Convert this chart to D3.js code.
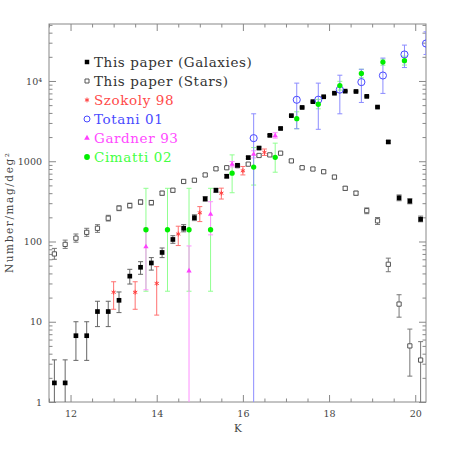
<!DOCTYPE html>
<html>
<head>
<meta charset="utf-8">
<script src="https://cdn.jsdelivr.net/npm/d3@7"></script>
<style>
  body { margin: 0; background: #fff; }
  #chart { width: 450px; height: 450px; }
  text { font-family: "DejaVu Serif", serif; }
</style>
</head>
<body>
<div id="chart"></div>
<script>
// magnitude bins (this paper)
var binK = [11.625, 11.875, 12.125, 12.375, 12.625, 12.875, 13.125, 13.375, 13.625, 13.875,
            14.125, 14.375, 14.625, 14.875, 15.125, 15.375, 15.625, 15.875, 16.125, 16.375,
            16.625, 16.875, 17.125, 17.375, 17.625, 17.875, 18.125, 18.375, 18.625, 18.875,
            19.125, 19.375, 19.625, 19.875, 20.125];

// This paper (Galaxies)
var galN  = [1.73, 1.73, 6.7, 6.7, 13.4, 13.4, 18.5, 37, 47.7, 54,
             73, 106, 146, 198, 340, 435, 650, 890, 1110, 1460,
             2100, 2560, 3700, 4680, 5530, 6360, 7040, 7470, 7400, 6430,
             4730, 1740, 350, 318, 189];
var galLo = [0, 0, 3.3, 3.3, 8.7, 8.7, 13, 29.5, 39, 44,
             63, 95, 132, 182, 318, 410, 620, 855, 1070, 1415,
             2050, 2500, 3630, 4600, 5440, 6260, 6930, 7360, 7290, 6330,
             4630, 1680, 322, 295, 176];
var galHi = [3.35, 3.35, 10, 10, 18, 18, 23.5, 45, 56, 63,
             83, 118, 162, 215, 362, 460, 680, 925, 1150, 1505,
             2150, 2620, 3770, 4760, 5620, 6460, 7150, 7580, 7510, 6530,
             4830, 1800, 380, 342, 207];

// This paper (Stars)
var starN  = [70, 92, 110, 130, 146, 195, 260, 280, 310, 305,
              400, 435, 560, 580, 675, 805, 830, 880, 920, 1180,
              1200, 1260, 1010, 830, 800, 740, 635, 460, 400, 242,
              181, 52, 16.6, 5.0, 3.33];
var starLo = [60, 82, 98, 116, 130, 180, 242, 262, 290, 285,
              378, 413, 535, 555, 648, 775, 800, 850, 890, 1140,
              1160, 1220, 975, 800, 770, 710, 605, 435, 378, 222,
              163, 42, 11.4, 2.1, 0];
var starHi = [82, 104, 124, 146, 162, 212, 278, 300, 330, 325,
              422, 458, 585, 605, 702, 835, 860, 910, 950, 1220,
              1240, 1300, 1045, 860, 830, 770, 665, 485, 422, 262,
              199, 62, 21.7, 8.1, 5.65];

// Szokoly 98
var szoK  = [13.0, 13.5, 14.0, 14.5, 15.0, 15.5, 16.0, 16.5];
var szoN  = [23.3, 23.3, 30, 124, 228, 400, 760, 1290];
var szoLo = [14.3, 14.3, 12.1, 89, 177, 338, 675, 1180];
var szoHi = [31.5, 31.5, 48.6, 155, 272, 462, 860, 1420];

// Totani 01
var totK  = [16.25, 17.25, 17.75, 18.25, 18.75, 19.25, 19.75, 20.25];
var totN  = [1940, 5830, 5850, 7800, 9680, 11700, 21400, 29300];
var totLo = [0, 2540, 2500, 3900, 5400, 7000, 14700, 21400];
var totHi = [3900, 9400, 9400, 11800, 14000, 19300, 28000, 41000];

// Gardner 93
var garK  = [13.75, 14.75, 15.25, 15.75, 16.25, 16.75];
var garN  = [86, 43, 218, 917, 1220, 2080];
var garLo = [25, 0, 121, 850, 1100, 1940];
var garHi = [147, 88, 313, 990, 1350, 2270];

// Cimatti 02
var cimK  = [13.75, 14.25, 14.75, 15.25, 15.75, 16.25, 16.75, 17.25, 17.75, 18.25, 18.75, 19.25, 19.75];
var cimN  = [140, 140, 140, 140, 710, 845, 1120, 3390, 5130, 8770, 12400, 17200, 17900];
var cimLo = [24, 24, 24, 24, 405, 505, 730, 2540, 4500, 7700, 11000, 15700, 15800];
var cimHi = [460, 460, 460, 460, 1200, 1480, 1680, 4130, 5890, 9900, 14000, 18700, 20400];

var legendLabels = ["This paper (Galaxies)", "This paper (Stars)", "Szokoly 98", "Totani 01", "Gardner 93", "Cimatti 02"];

var xMajor = [12, 14, 16, 18, 20];
var yMajor = [1, 10, 100, 1000, 10000];
var yLabels = ["1", "10", "100", "1000", "10\u2074"];

var chartDiv = document.getElementById("chart");
var width = 450, height = 450;

var svg = d3.select(chartDiv).append("svg")
    .attr("width", width)
    .attr("height", height);

// plot box (note: "top" is taken by window.top)
var pLeft = 49, pRight = 426, pTop = 24, pBottom = 402;

var x = d3.scaleLinear().domain([11.5, 20.25]).range([pLeft, pRight]);
var y = d3.scaleLog().domain([1, Math.pow(10, 4.71)]).range([pBottom, pTop]);

var axisColor = "#888";

// minor tick positions
var xMinor = [];
for (var k = 11.5; k <= 20.25; k += 0.5) { if (xMajor.indexOf(k) < 0) xMinor.push(k); }
var yMinor = [];
yMajor.forEach(function(d) {
    for (var m = 2; m <= 9; m++) { if (d * m <= y.domain()[1]) yMinor.push(d * m); }
});

function styleAxis(g) {
    g.select(".domain").remove();
    g.selectAll("line").attr("stroke", axisColor);
    g.selectAll("text").attr("fill", "#444").style("font-size", "9.5px").style("font-family", "DejaVu Serif");
}

// bottom + top x axes
svg.append("g").attr("transform", "translate(0," + pBottom + ")")
    .call(d3.axisBottom(x).tickValues(xMajor).tickSizeInner(-7).tickSizeOuter(0).tickPadding(8).tickFormat(d3.format("d")))
    .call(styleAxis);
svg.append("g").attr("transform", "translate(0," + pBottom + ")")
    .call(d3.axisBottom(x).tickValues(xMinor).tickSizeInner(-3.5).tickSizeOuter(0).tickFormat(""))
    .call(styleAxis);
svg.append("g").attr("transform", "translate(0," + pTop + ")")
    .call(d3.axisTop(x).tickValues(xMajor).tickSizeInner(-7).tickSizeOuter(0).tickFormat(""))
    .call(styleAxis);
svg.append("g").attr("transform", "translate(0," + pTop + ")")
    .call(d3.axisTop(x).tickValues(xMinor).tickSizeInner(-3.5).tickSizeOuter(0).tickFormat(""))
    .call(styleAxis);

// left + right y axes
svg.append("g").attr("transform", "translate(" + pLeft + ",0)")
    .call(d3.axisLeft(y).tickValues(yMajor).tickSizeInner(-7).tickSizeOuter(0).tickPadding(7)
        .tickFormat(function(d, i) { return yLabels[i]; }))
    .call(styleAxis);
svg.append("g").attr("transform", "translate(" + pLeft + ",0)")
    .call(d3.axisLeft(y).tickValues(yMinor).tickSizeInner(-3.5).tickSizeOuter(0).tickFormat(""))
    .call(styleAxis);
svg.append("g").attr("transform", "translate(" + pRight + ",0)")
    .call(d3.axisRight(y).tickValues(yMajor).tickSizeInner(-7).tickSizeOuter(0).tickFormat(""))
    .call(styleAxis);
svg.append("g").attr("transform", "translate(" + pRight + ",0)")
    .call(d3.axisRight(y).tickValues(yMinor).tickSizeInner(-3.5).tickSizeOuter(0).tickFormat(""))
    .call(styleAxis);

// frame
svg.append("rect")
    .attr("x", pLeft).attr("y", pTop)
    .attr("width", pRight - pLeft).attr("height", pBottom - pTop)
    .attr("fill", "none").attr("stroke", axisColor).attr("stroke-width", 1);

// axis titles
svg.append("text")
    .attr("x", x(16) - 5).attr("y", 432)
    .attr("text-anchor", "middle")
    .attr("fill", "#444").style("font-size", "10.5px")
    .text("K");

svg.append("text")
    .attr("transform", "translate(13," + ((pTop + pBottom) / 2) + ") rotate(-90)")
    .attr("text-anchor", "middle")
    .attr("fill", "#444").style("font-size", "10.5px")
    .attr("textLength", 120).attr("lengthAdjust", "spacing")
    .text("Number/mag/deg\u00b2");

// plot area clip
svg.append("clipPath").attr("id", "clip")
    .append("rect").attr("x", pLeft).attr("y", pTop).attr("width", pRight - pLeft).attr("height", pBottom - pTop);

var plot = svg.append("g").attr("clip-path", "url(#clip)");

function yClamp(v) { return v <= 0 ? pBottom + 5 : y(v); }

function drawErrors(ks, lo, hi, color) {
    var g = plot.append("g").attr("stroke", color).attr("stroke-width", 1).attr("fill", "none");
    ks.forEach(function(k, i) {
        var cx = x(k);
        g.append("line").attr("x1", cx).attr("x2", cx).attr("y1", yClamp(lo[i])).attr("y2", y(hi[i]));
        g.append("line").attr("x1", cx - 2.5).attr("x2", cx + 2.5).attr("y1", y(hi[i])).attr("y2", y(hi[i]));
        if (lo[i] > 0) g.append("line").attr("x1", cx - 2.5).attr("x2", cx + 2.5).attr("y1", y(lo[i])).attr("y2", y(lo[i]));
    });
}

function drawMarks(ks, ns, shape, size, fill, stroke) {
    plot.append("g").selectAll("path")
        .data(ks)
        .enter().append("path")
        .attr("transform", function(d, i) { return "translate(" + x(d) + "," + y(ns[i]) + ")"; })
        .attr("d", d3.symbol().type(shape).size(size))
        .attr("fill", fill)
        .attr("stroke", stroke)
        .attr("stroke-width", 1);
}

var red = "#ff4040", blue = "#4848ff", magenta = "#ff40ff", green = "#00ee00";

// error bars
drawErrors(binK, starLo, starHi, "#777");
drawErrors(binK, galLo, galHi, "#666");
drawErrors(cimK, cimLo, cimHi, "#90ff90");
drawErrors(garK, garLo, garHi, "#ff90ff");
drawErrors(totK, totLo, totHi, "#8c8cff");
drawErrors(szoK, szoLo, szoHi, "#ff7070");

// markers
drawMarks(binK, starN, d3.symbolSquare, 18, "#fff", "#555");
drawMarks(binK, galN, d3.symbolSquare, 22, "#000", "none");
drawMarks(szoK, szoN, d3.symbolAsterisk, 16, "none", red);
drawMarks(totK, totN, d3.symbolCircle, 40, "none", blue);
drawMarks(garK, garN, d3.symbolTriangle, 12, magenta, "none");
drawMarks(cimK, cimN, d3.symbolCircle, 22, green, "none");

// legend
var legendShapes = [d3.symbolSquare, d3.symbolSquare, d3.symbolAsterisk, d3.symbolCircle, d3.symbolTriangle, d3.symbolCircle];
var legendSizes = [20, 16, 16, 28, 14, 26];
var legendFill = ["#000", "#fff", "none", "none", magenta, green];
var legendStroke = ["none", "#555", red, blue, "none", "none"];
var legendText = ["#333", "#333", "#ff4a4a", "#4a4aff", "#ff4aff", "#44ff44"];

var legend = svg.append("g");
legendLabels.forEach(function(lab, i) {
    var ly = 62 + i * 19;
    legend.append("path")
        .attr("transform", "translate(87," + ly + ")")
        .attr("d", d3.symbol().type(legendShapes[i]).size(legendSizes[i]))
        .attr("fill", legendFill[i]).attr("stroke", legendStroke[i]).attr("stroke-width", 1);
    legend.append("text")
        .attr("x", 94).attr("y", ly + 5)
        .attr("fill", legendText[i])
        .style("font-size", "13.5px")
        .style("letter-spacing", "0.6px")
        .text(lab);
});
</script>
</body>
</html>
